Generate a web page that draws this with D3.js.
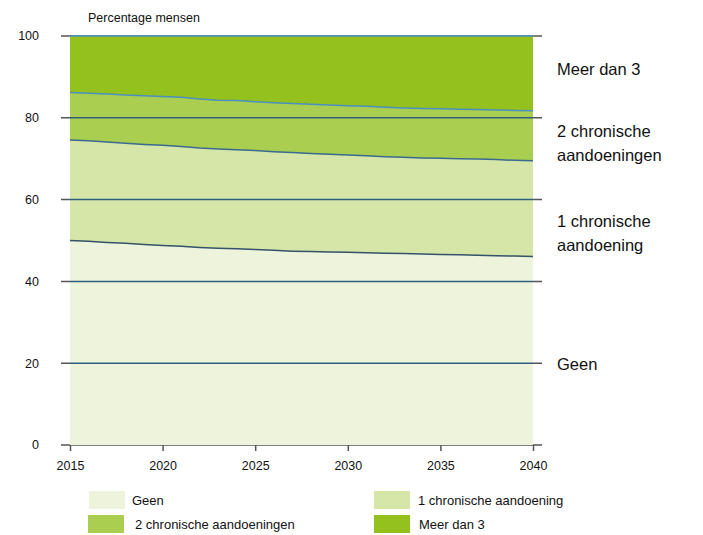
<!DOCTYPE html>
<html><head><meta charset="utf-8">
<script src="https://cdn.jsdelivr.net/npm/d3@7"></script>
<style>body{margin:0;background:#fff;font-family:Arial,"Liberation Sans",sans-serif;}</style>
</head><body><svg id="c" width="703" height="535"></svg>
<script>
const years = d3.range(2015, 2041);
const topGeen = [50.0,49.8,49.5,49.3,49.0,48.8,48.6,48.3,48.1,48.0,47.8,47.6,47.4,47.3,47.2,47.1,47.0,46.9,46.8,46.7,46.6,46.5,46.4,46.3,46.2,46.1];
const topEen = [74.6,74.4,74.1,73.8,73.5,73.3,73.0,72.6,72.4,72.2,72.0,71.7,71.5,71.3,71.1,70.9,70.7,70.5,70.35,70.2,70.1,70.0,69.9,69.8,69.6,69.5];
const topTwee = [86.2,86.0,85.8,85.6,85.4,85.2,85.0,84.6,84.3,84.2,83.9,83.7,83.5,83.3,83.1,82.95,82.8,82.6,82.4,82.3,82.2,82.1,82.0,81.9,81.8,81.7];
// series values (percent of people)
const geen = topGeen.slice();
const een = topEen.map((v,i)=>+(v-topGeen[i]).toFixed(2));
const twee = topTwee.map((v,i)=>+(v-topEen[i]).toFixed(2));
const meer = topTwee.map(v=>+(100-v).toFixed(2));
const seriesKeys = ["Geen","1 chronische aandoening","2 chronische aandoeningen","Meer dan 3"];
const seriesColors = ["#eef3dc","#d5e6a8","#aace4f","#95c11f"];
const lineColors = ["#34526a","#3a6a90","#4a8fc0","#4a8fc0"];
const yTicks = [0,20,40,60,80,100];
const xTicks = [2015,2020,2025,2030,2035,2040];
const sideLabels = [["Meer dan 3"],["2 chronische","aandoeningen"],["1 chronische","aandoening"],["Geen"]];
const sideLabelY = [69,139,229,364];

const rows = years.map((y,i)=>({year:y,"Geen":geen[i],"1 chronische aandoening":een[i],"2 chronische aandoeningen":twee[i],"Meer dan 3":meer[i]}));
const stacked = d3.stack().keys(seriesKeys)(rows);

const svg = d3.select("#c");
const x = d3.scaleLinear().domain([2015,2040]).range([70,533]);
const y = d3.scaleLinear().domain([0,100]).range([445,36]);

// gridlines (full width, grey)
svg.append("g").selectAll("line").data(yTicks).join("line")
  .attr("x1",61).attr("x2",542).attr("y1",d=>y(d)).attr("y2",d=>y(d))
  .attr("stroke","#555").attr("stroke-width",1.5);

const area = d3.area().x((d,i)=>x(years[i])).y0(d=>y(d[0])).y1(d=>y(d[1]));
svg.append("g").selectAll("path").data(stacked).join("path")
  .attr("d",area).attr("fill",(d,i)=>seriesColors[i]);

// gridlines over area (tinted)
svg.append("g").selectAll("line").data(yTicks.filter(d=>d>0&&d<100)).join("line")
  .attr("x1",70).attr("x2",533).attr("y1",d=>y(d)).attr("y2",d=>y(d))
  .attr("stroke","#2f5f7e").attr("stroke-width",1.5);

// boundary lines
const line = d3.line().x((d,i)=>x(years[i])).y(d=>y(d[1]));
svg.append("g").selectAll("path").data(stacked).join("path")
  .attr("d",line).attr("fill","none").attr("stroke",(d,i)=>lineColors[i]).attr("stroke-width",1.5);

// y labels
svg.append("g").selectAll("text").data(yTicks).join("text")
  .attr("x",39).attr("y",d=>y(d)).attr("dy","0.35em").attr("text-anchor","end")
  .attr("font-size",12.5).attr("fill","#111").text(d=>d);
svg.append("text").attr("x",88).attr("y",22).attr("font-size",12.5).attr("fill","#111").text("Percentage mensen");

// x axis
const xa = svg.append("g").attr("transform","translate(0,445)")
  .call(d3.axisBottom(x).tickValues(xTicks).tickFormat(d3.format("d")).tickSize(6).tickPadding(10));
xa.select(".domain").remove();
xa.selectAll("line").attr("stroke","#555").attr("stroke-width",1.5);
xa.selectAll("text").attr("font-size",12.5).attr("fill","#111").attr("font-family","Arial,'Liberation Sans',sans-serif");

// side labels
sideLabels.forEach((lines,i)=>{
  const t = svg.append("text").attr("x",557).attr("y",sideLabelY[i]).attr("font-size",16.5).attr("fill","#111");
  lines.forEach((l,j)=>{
    t.append("tspan").attr("x",557).attr("dy", j===0 ? (lines.length===1?"0.35em":"-0.15em") : "1.5em").text(l);
  });
});

// legend
const legPos = [[89,491,132],[374,491,418],[88,515,135],[374,515,419]];
seriesKeys.forEach((k,i)=>{
  const [sx,sy,tx] = legPos[i];
  svg.append("rect").attr("x",sx).attr("y",sy).attr("width",36).attr("height",18).attr("fill",seriesColors[i]);
  svg.append("text").attr("x",tx).attr("y",sy+9).attr("dy","0.35em").attr("font-size",13).attr("fill","#111").text(k);
});
</script></body></html>
